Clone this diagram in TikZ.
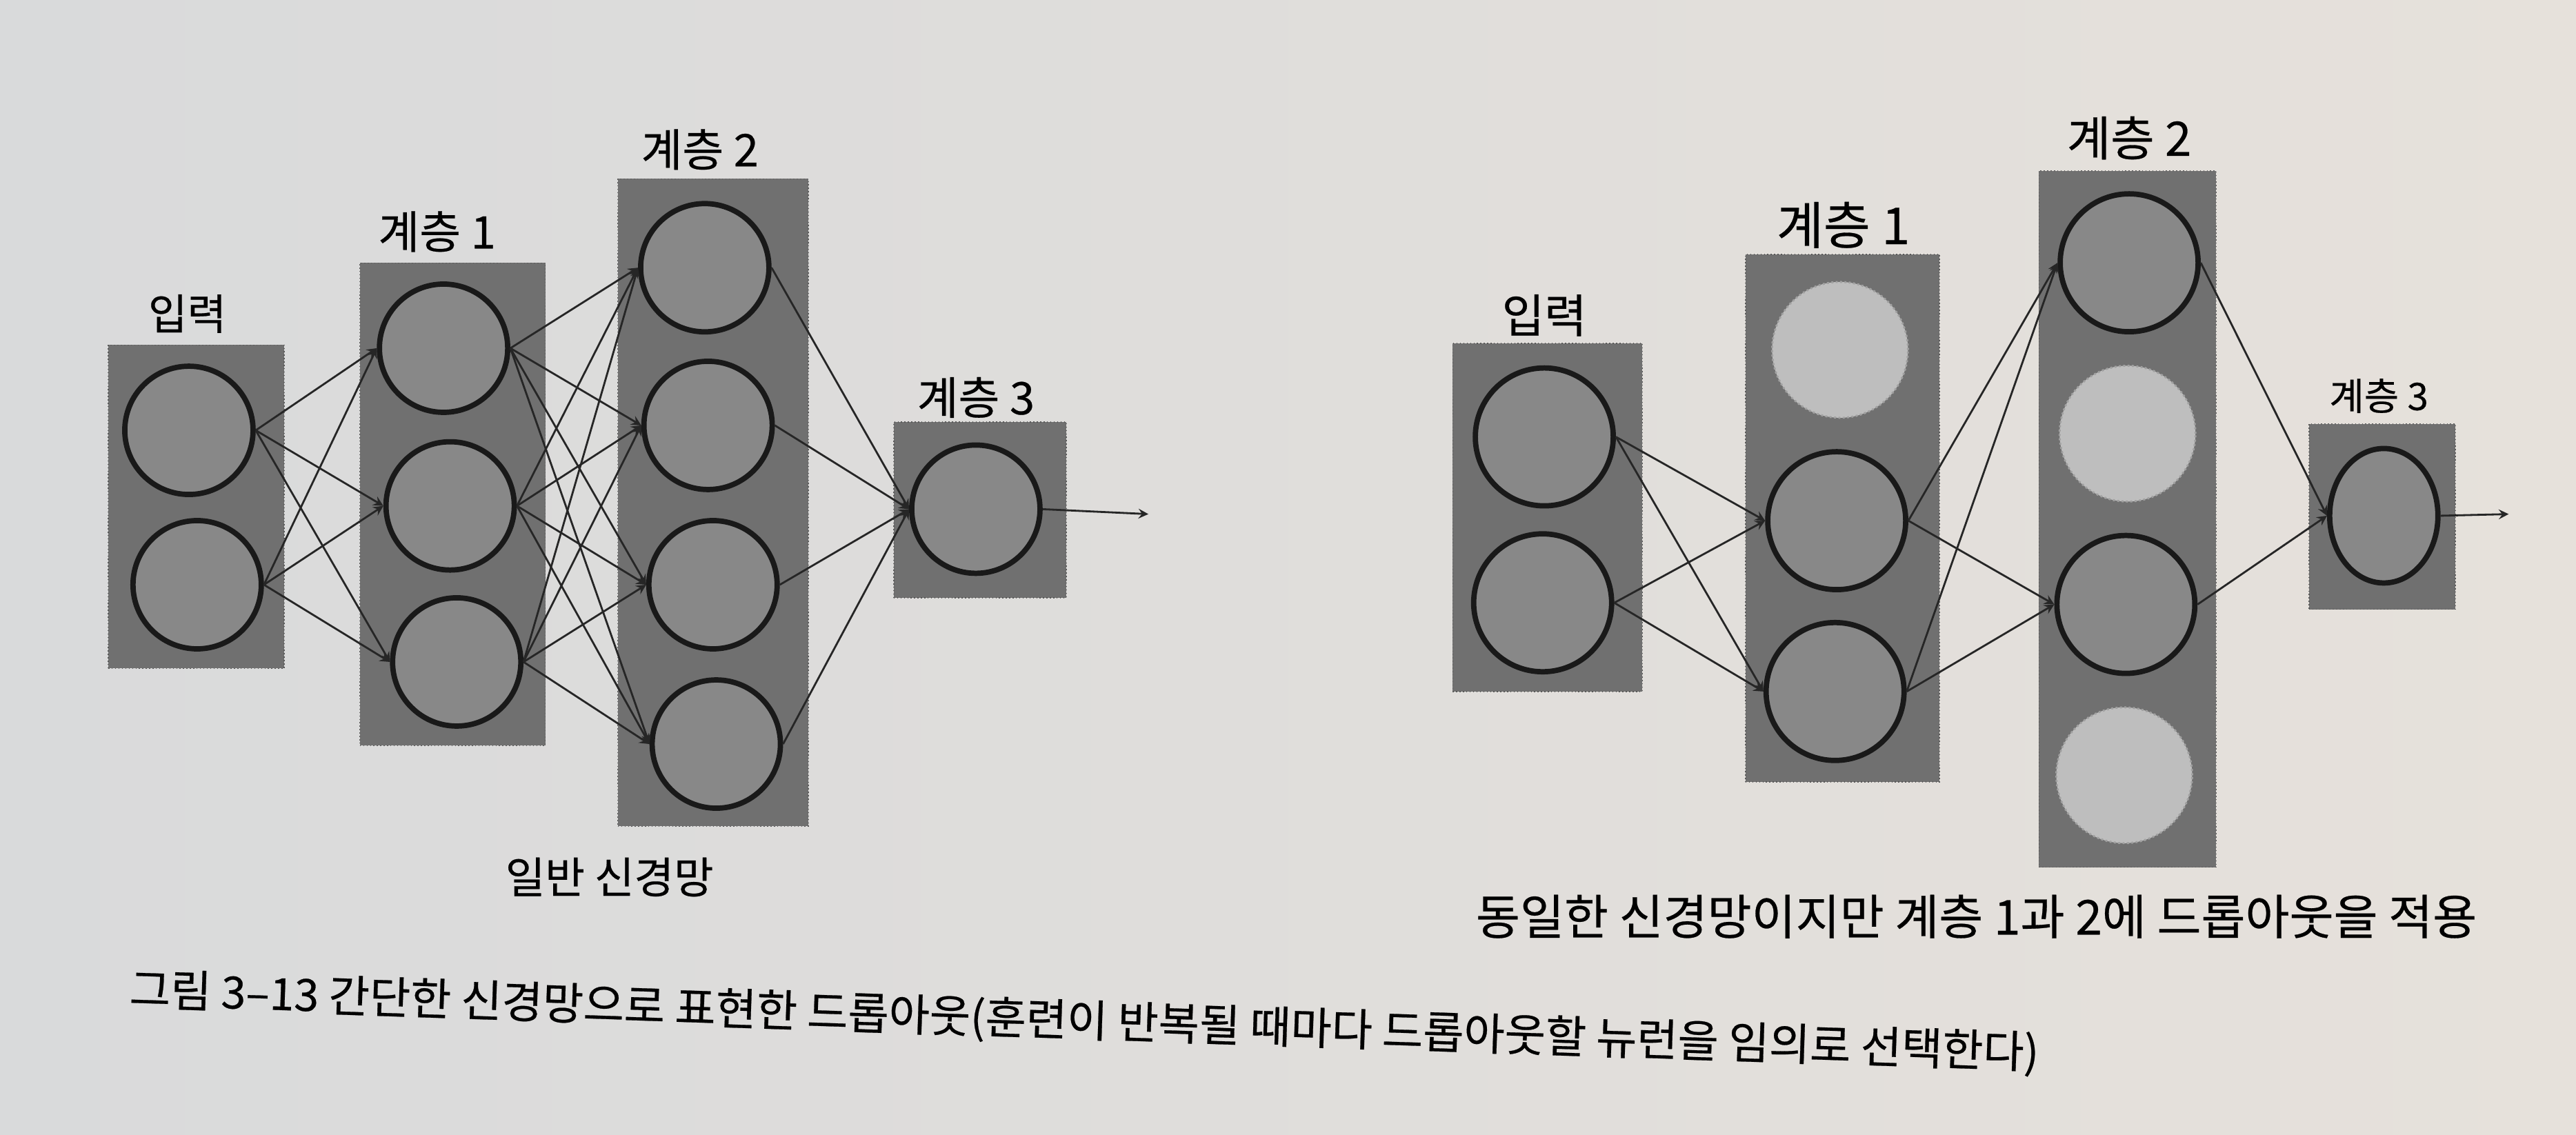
\documentclass[tikz,border=0pt]{standalone}
\usepackage{fontspec}
\setmainfont{Noto Sans CJK KR}[FakeBold=0.4]
\usetikzlibrary{shapes.geometric}
\definecolor{paperLeft}{HTML}{D9DADB}
\definecolor{paperRight}{HTML}{E6E1DB}
\definecolor{boxGray}{HTML}{707070}
\definecolor{neuronGray}{HTML}{888888}
\definecolor{dropGray}{HTML}{BEBEBE}

\begin{document}
\begin{tikzpicture}[x=0.02382cm,y=-0.02382cm]
    \tikzstyle{every node} = [font=\fontsize{18.5}{21}\selectfont]
    \tikzstyle{layer} = [draw=black!65, densely dotted, rectangle, fill=boxGray, inner sep=0pt]
    \tikzstyle{neuron} = [draw=black!90, solid, line width=2.2pt, circle, fill=neuronGray, inner sep=0pt, minimum size=1.86cm]
    \tikzstyle{bigNeuron} = [neuron, minimum size=2.0cm]
    \tikzstyle{dropped} = [draw=dropGray!85!black, densely dotted, line width=0.8pt, circle, fill=dropGray, inner sep=0pt, minimum size=1.97cm]
    \tikzstyle{conn} = [-stealth, thick, black!85]
    % paper
    \shade[left color=paperLeft, right color=paperRight] (0,0) rectangle (1568,691);

    % place nodes (plain network)
    \node[layer, minimum width=2.55cm, minimum height=4.69cm] (lInBox) at (119.5,308.5) {};
    \node[layer, minimum width=2.69cm, minimum height=7.0cm] (lOneBox) at (275.5,307) {};
    \node[layer, minimum width=2.76cm, minimum height=9.39cm] (lTwoBox) at (434,306) {};
    \node[layer, minimum width=2.5cm, minimum height=2.55cm] (lThreeBox) at (596.5,310.5) {};
    \node[neuron] (lIn1) at (115,262) {};
    \node[neuron] (lIn2) at (120,356) {};
    \node[neuron] (lOne1) at (270,212) {};
    \node[neuron] (lOne2) at (274,308) {};
    \node[neuron] (lOne3) at (278,403) {};
    \node[neuron] (lTwo1) at (429,163) {};
    \node[neuron] (lTwo2) at (431,259) {};
    \node[neuron] (lTwo3) at (434,356) {};
    \node[neuron] (lTwo4) at (436,453) {};
    \node[neuron] (lThree) at (594,310) {};
    \coordinate (lOut) at (699,313);
    \node[font=\fontsize{17.5}{20}\selectfont] (lInLabel) at (114,191) {입력};
    \node (lOneLabel) at (266,141) {계층 1};
    \node (lTwoLabel) at (426,91) {계층 2};
    \node (lThreeLabel) at (594,242) {계층 3};
    \node[font=\fontsize{17.8}{20}\selectfont] (lCaption) at (371,534) {일반 신경망};

    % place nodes (dropout network)
    \node[layer, minimum width=2.75cm, minimum height=5.05cm] (rInBox) at (942,315) {};
    \node[layer, minimum width=2.81cm, minimum height=7.65cm] (rOneBox) at (1121.5,315.5) {};
    \node[layer, minimum width=2.57cm, minimum height=10.1cm] (rTwoBox) at (1295,316) {};
    \node[layer, minimum width=2.12cm, minimum height=2.69cm] (rThreeBox) at (1450,314.5) {};
    \node[bigNeuron] (rIn1) at (940,266) {};
    \node[bigNeuron] (rIn2) at (939,367) {};
    \node[dropped] (rOne1) at (1120,213) {};
    \node[bigNeuron] (rOne2) at (1118,317) {};
    \node[bigNeuron] (rOne3) at (1117,421) {};
    \node[bigNeuron] (rTwo1) at (1296,160) {};
    \node[dropped] (rTwo2) at (1295,264) {};
    \node[bigNeuron] (rTwo3) at (1294,368) {};
    \node[dropped] (rTwo4) at (1293,472) {};
    \node[neuron, ellipse, minimum width=1.57cm, minimum height=1.95cm] (rThree) at (1451,314) {};
    \coordinate (rOut) at (1527,313);
    \node[font=\fontsize{19}{22}\selectfont] (rInLabel) at (940,192) {입력};
    \node[font=\fontsize{21}{24}\selectfont] (rOneLabel) at (1122,137) {계층 1};
    \node[font=\fontsize{19.6}{22}\selectfont] (rTwoLabel) at (1296,84) {계층 2};
    \node[font=\fontsize{15.6}{18}\selectfont] (rThreeLabel) at (1448,241) {계층 3};
    \node[font=\fontsize{19.8}{22}\selectfont] (rCaption) at (1203,558) {동일한 신경망이지만 계층 1과 2에 드롭아웃을 적용};

    % figure caption
    \node[font=\fontsize{18.3}{21}\selectfont, rotate=-1.9] (figCaption) at (660,622.5)
    {그림 3–13 간단한 신경망으로 표현한 드롭아웃(훈련이 반복될 때마다 드롭아웃할 뉴런을 임의로 선택한다)};

    % Connections (plain network)
    \path (lIn1.east) edge[conn] (lOne1.west) edge[conn] (lOne2.west) edge[conn] (lOne3.west);
    \path (lIn2.east) edge[conn] (lOne1.west) edge[conn] (lOne2.west) edge[conn] (lOne3.west);
    \path (lOne1.east) edge[conn] (lTwo1.west) edge[conn] (lTwo2.west) edge[conn] (lTwo3.west) edge[conn] (lTwo4.west);
    \path (lOne2.east) edge[conn] (lTwo1.west) edge[conn] (lTwo2.west) edge[conn] (lTwo3.west) edge[conn] (lTwo4.west);
    \path (lOne3.east) edge[conn] (lTwo1.west) edge[conn] (lTwo2.west) edge[conn] (lTwo3.west) edge[conn] (lTwo4.west);
    \draw[conn] (lTwo1.east) -- (lThree.west);
    \draw[conn] (lTwo2.east) -- (lThree.west);
    \draw[conn] (lTwo3.east) -- (lThree.west);
    \draw[conn] (lTwo4.east) -- (lThree.west);
    \draw[conn] (lThree.east) -- (lOut);

    % Connections (dropout network)
    \path (rIn1.east) edge[conn] (rOne2.west) edge[conn] (rOne3.west);
    \path (rIn2.east) edge[conn] (rOne2.west) edge[conn] (rOne3.west);
    \path (rOne2.east) edge[conn] (rTwo1.west) edge[conn] (rTwo3.west);
    \path (rOne3.east) edge[conn] (rTwo1.west) edge[conn] (rTwo3.west);
    \draw[conn] (rTwo1.east) -- (rThree.west);
    \draw[conn] (rTwo3.east) -- (rThree.west);
    \draw[conn] (rThree.east) -- (rOut);

\end{tikzpicture}
\end{document}
